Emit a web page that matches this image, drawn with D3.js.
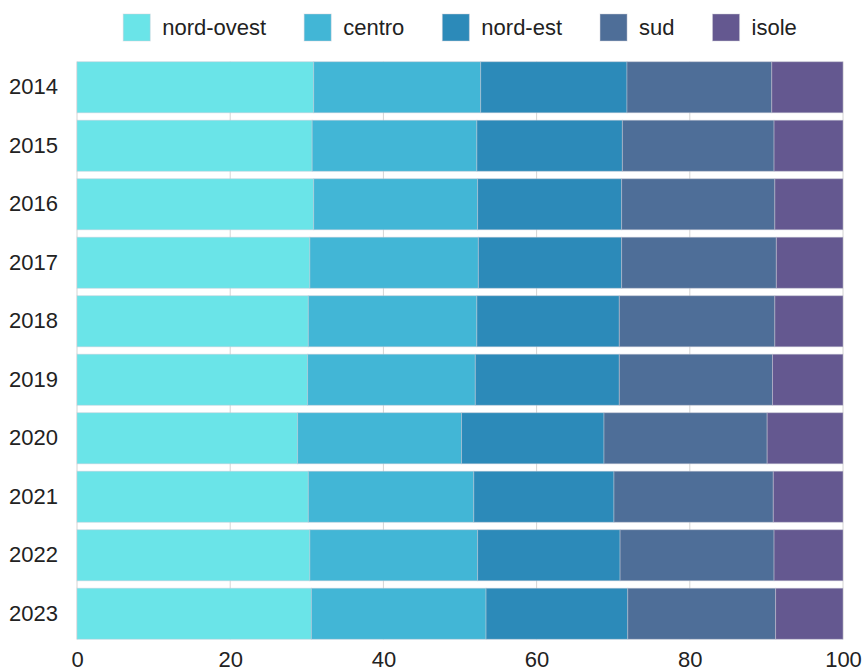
<!DOCTYPE html>
<html>
<head>
<meta charset="utf-8">
<script src="https://cdn.jsdelivr.net/npm/d3@7"></script>
<style>
    body { margin: 0; background: #fff; }
    svg text { font-family: "Liberation Sans", Arial, sans-serif; fill: #222; }
</style>
</head>
<body>
<svg id="chart" width="862" height="672"></svg>
<script>
// data (percent shares per year)
var years = ["2014","2015","2016","2017","2018","2019","2020","2021","2022","2023"];
var regions = ["nord-ovest","centro","nord-est","sud","isole"];
var nordOvest = [30.9, 30.7, 30.9, 30.4, 30.2, 30.1, 28.8, 30.2, 30.4, 30.6];
var centro    = [21.8, 21.5, 21.4, 22.0, 22.0, 21.9, 21.4, 21.6, 21.9, 22.8];
var nordEst   = [19.1, 19.0, 18.8, 18.7, 18.6, 18.8, 18.6, 18.3, 18.6, 18.5];
var sud       = [18.9, 19.8, 20.0, 20.2, 20.3, 20.0, 21.3, 20.8, 20.1, 19.3];
var isole     = [ 9.3,  9.0,  8.9,  8.7,  8.9,  9.2,  9.9,  9.1,  9.0,  8.8];
var xTicks = [0, 20, 40, 60, 80, 100];
var colors = ["#6ae4e8", "#42b6d6", "#2c8ab9", "#4e6e98", "#645890"];

var series = [nordOvest, centro, nordEst, sud, isole];

// build table for d3.stack
var table = years.map(function(y, i) {
    var row = {year: y};
    regions.forEach(function(r, j) { row[r] = series[j][i]; });
    return row;
});

var svg = d3.select("#chart");
var padding = {top: 58, bottom: 29, left: 77, right: 19};
var width = 862, height = 672;

var x = d3.scaleLinear()
    .domain([0, 100])
    .range([padding.left, width - padding.right]);

var y = d3.scaleBand()
    .domain(years)
    .range([padding.top, height - padding.bottom])
    .paddingInner(0.127)
    .paddingOuter(0.0635);

var color = d3.scaleOrdinal().domain(regions).range(colors);

var stacked = d3.stack().keys(regions)(table);

var gridTop = y(years[0]);
var gridBottom = y(years[years.length - 1]) + y.bandwidth();

// vertical gridlines (only visible between bars)
svg.append("g")
    .selectAll("line")
    .data(xTicks)
    .enter()
    .append("line")
    .attr("x1", function(d) { return x(d); })
    .attr("x2", function(d) { return x(d); })
    .attr("y1", gridTop)
    .attr("y2", gridBottom)
    .style("stroke", "#d4d4d4")
    .style("stroke-width", 1);

// bars
svg.append("g")
    .selectAll("g")
    .data(stacked)
    .enter()
    .append("g")
    .style("fill", function(d) { return color(d.key); })
    .selectAll("rect")
    .data(function(d) { return d; })
    .enter()
    .append("rect")
    .attr("x", function(d) { return x(d[0]); })
    .attr("width", function(d) { return x(d[1]) - x(d[0]); })
    .attr("y", function(d) { return y(d.data.year); })
    .attr("height", y.bandwidth())
    .style("stroke", "rgba(205,205,215,0.45)")
    .style("stroke-width", 1);

// y axis labels
var yAxis = d3.axisLeft(y).tickSize(0).tickPadding(19);
var gY = svg.append("g")
    .attr("transform", "translate(" + padding.left + ",0)")
    .call(yAxis);
gY.select(".domain").remove();
gY.selectAll("text").style("font-size", "22px").style("fill", "#222");

// x axis labels
var xAxis = d3.axisBottom(x).tickValues(xTicks).tickSize(0).tickPadding(12);
var gX = svg.append("g")
    .attr("transform", "translate(0," + gridBottom + ")")
    .call(xAxis);
gX.select(".domain").remove();
gX.selectAll("text").style("font-size", "22px").style("fill", "#222");

// legend, centered over the plot
var legend = svg.append("g");
var sw = 27, gapText = 12, gapItem = 38;
var items = legend.selectAll("g")
    .data(regions)
    .enter()
    .append("g");
items.append("rect")
    .attr("width", sw)
    .attr("height", sw)
    .attr("y", 14)
    .style("fill", function(d) { return color(d); })
    .style("stroke", "rgba(205,205,215,0.45)");
items.append("text")
    .text(function(d) { return d; })
    .attr("x", sw + gapText)
    .attr("y", 14 + sw / 2)
    .attr("dy", "0.35em")
    .style("font-size", "22px");

var offs = [], total = 0;
items.each(function(d, i) {
    var w = sw + gapText + d3.select(this).select("text").node().getComputedTextLength();
    offs.push(total);
    total += w + (i < regions.length - 1 ? gapItem : 0);
});
var startX = (x(0) + x(100)) / 2 - total / 2;
items.attr("transform", function(d, i) { return "translate(" + (startX + offs[i]) + ",0)"; });
</script>
</body>
</html>
